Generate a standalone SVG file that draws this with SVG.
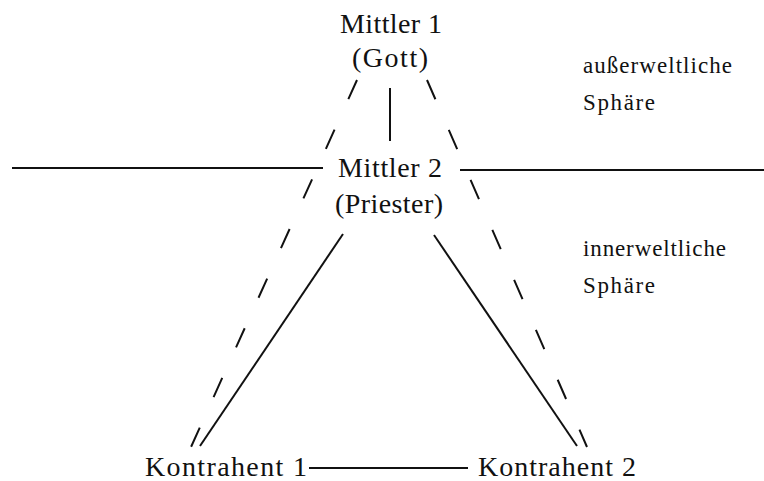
<svg xmlns="http://www.w3.org/2000/svg" width="764" height="481" viewBox="0 0 764 481">
<style>
text{font-family:"Liberation Serif","Times New Roman",serif;fill:#111}
.n{font-size:28px;text-anchor:middle}
.s{font-size:23px}
.l{stroke:#111;stroke-width:2;fill:none}
.d{stroke-dasharray:21 33.5}
</style>
<rect width="764" height="481" fill="#fff"/>
<g id="connectors">
<line class="l" x1="12" y1="168" x2="323" y2="168"/>
<line class="l" x1="460" y1="170" x2="764" y2="170"/>
<line class="l" x1="390" y1="88" x2="390" y2="141"/>
<line class="l d" x1="357" y1="80" x2="191" y2="447"/>
<line class="l d" x1="427" y1="80" x2="587" y2="447"/>
<line class="l" x1="343" y1="234" x2="200" y2="446"/>
<line class="l" x1="434" y1="235" x2="577" y2="446"/>
<line class="l" x1="309" y1="468" x2="468" y2="468"/>
</g>
<g id="mittler1"><text class="n" x="391" y="33" textLength="102" lengthAdjust="spacing">Mittler 1</text><text class="n" x="390" y="67" textLength="76" lengthAdjust="spacing">(Gott)</text></g>
<g id="mittler2"><text class="n" x="390" y="177" textLength="104" lengthAdjust="spacing">Mittler 2</text><text class="n" x="389" y="213" textLength="108" lengthAdjust="spacing">(Priester)</text></g>
<g id="kontrahent1"><text class="n" x="226" y="476" textLength="162" lengthAdjust="spacing">Kontrahent 1</text></g>
<g id="kontrahent2"><text class="n" x="557" y="476" textLength="158" lengthAdjust="spacing">Kontrahent 2</text></g>
<g id="aussen"><text class="s" x="583" y="73" textLength="149" lengthAdjust="spacing">außerweltliche</text><text class="s" x="583" y="110" textLength="72" lengthAdjust="spacing">Sphäre</text></g>
<g id="innen"><text class="s" x="583" y="256" textLength="143" lengthAdjust="spacing">innerweltliche</text><text class="s" x="583" y="293" textLength="72" lengthAdjust="spacing">Sphäre</text></g>
</svg>
